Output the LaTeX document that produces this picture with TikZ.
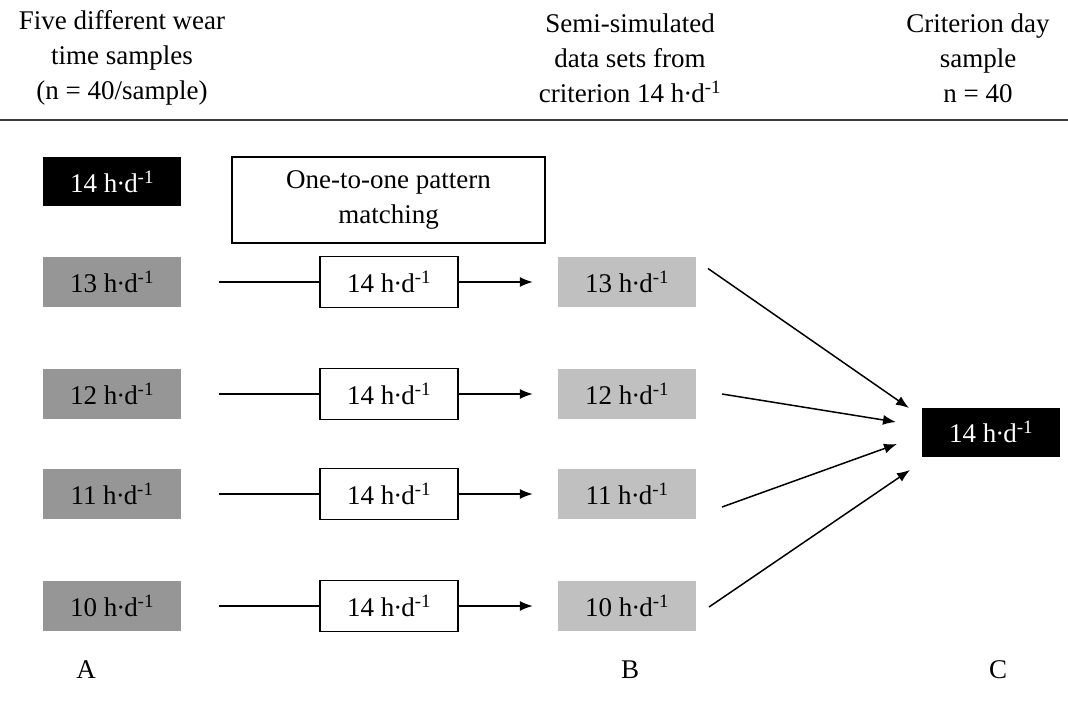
\documentclass[tikz,border=0pt]{standalone}
\usepackage{fontspec}
\setmainfont{Liberation Serif}
\usetikzlibrary{arrows.meta}
\definecolor{darkfill}{RGB}{150,150,150}
\definecolor{lightfill}{RGB}{192,192,192}
\definecolor{rulegray}{RGB}{60,60,60}
\newcommand{\hrate}[1]{#1 h\kern-1pt·\kern-1pt d\textsuperscript{-1}}
\begin{document}
\begin{tikzpicture}[x=1pt,y=-1pt,
  every node/.style={font=\fontsize{27}{35}\selectfont, inner sep=0pt},
  cell/.style={minimum width=138pt, minimum height=50pt, anchor=center},
  samplebox/.style={cell, fill=darkfill},
  simbox/.style={cell, fill=lightfill},
  critbox/.style={cell, fill=black, text=white},
  matchbox/.style={cell, draw=black, line width=1.5pt, fill=white},
  header/.style={align=center, anchor=center},
  link/.style={line width=1.5pt},
  arrowlink/.style={line width=1.5pt, -{Latex[length=13pt,width=10pt]}}
]
\useasboundingbox (0,0) rectangle (1068,705);

% column headings and rule
\node[header] (hA) at (122,58) {Five different wear\\time samples\\(n = 40/sample)};
\node[header] (hB) at (630,58) {Semi-simulated\\data sets from\\criterion \hrate{14}};
\node[header] (hC) at (978,58) {Criterion day\\sample\\n = 40};
\coordinate (ruleL) at (0,120);
\coordinate (ruleR) at (1068,120);
\draw[rulegray, line width=2pt] (ruleL) -- (ruleR);

% column A: criterion and wear time samples
\node[critbox, minimum height=49pt] (a14) at (112,181.5) {\hrate{14}};
\node[samplebox] (a13) at (112,282) {\hrate{13}};
\node[samplebox] (a12) at (112,394) {\hrate{12}};
\node[samplebox] (a11) at (112,494) {\hrate{11}};
\node[samplebox] (a10) at (112,606) {\hrate{10}};

% pattern matching label
\node[matchbox, minimum width=313pt, minimum height=86pt, align=center] (match) at (388.5,200) {One-to-one pattern\\matching};

% matched 14 h/d blocks
\node[matchbox, minimum height=51pt] (m13) at (389,282) {\hrate{14}};
\node[matchbox, minimum height=51pt] (m12) at (389,394) {\hrate{14}};
\node[matchbox, minimum height=51pt] (m11) at (389,494) {\hrate{14}};
\node[matchbox, minimum height=51pt] (m10) at (389,606) {\hrate{14}};

% column B: semi-simulated data sets
\node[simbox] (b13) at (627,282) {\hrate{13}};
\node[simbox] (b12) at (627,394) {\hrate{12}};
\node[simbox] (b11) at (627,494) {\hrate{11}};
\node[simbox] (b10) at (627,606) {\hrate{10}};

% column C: criterion day sample
\node[critbox, minimum height=49pt] (c14) at (991,432) {\hrate{14}};

% horizontal flow A -> matching -> B
\foreach \r in {13,12,11,10}{
  \draw[link, shorten <=38pt] (a\r.east) -- (m\r.west);
  \draw[arrowlink, shorten >=25pt] (m\r.east) -- (b\r.west);
}

% converging arrows B -> C
\coordinate (s13) at (708,268.5);
\coordinate (t13) at (909,408);
\coordinate (s12) at (722,394);
\coordinate (t12) at (896,422);
\coordinate (s11) at (722,507);
\coordinate (t11) at (897,444);
\coordinate (s10) at (709,607);
\coordinate (t10) at (910,470);
\foreach \r in {13,12,11,10}{
  \draw[arrowlink] (s\r) -- (t\r);
}

% column letters
\node (lA) at (86,670) {A};
\node (lB) at (630,670) {B};
\node (lC) at (998,670) {C};
\end{tikzpicture}
\end{document}
